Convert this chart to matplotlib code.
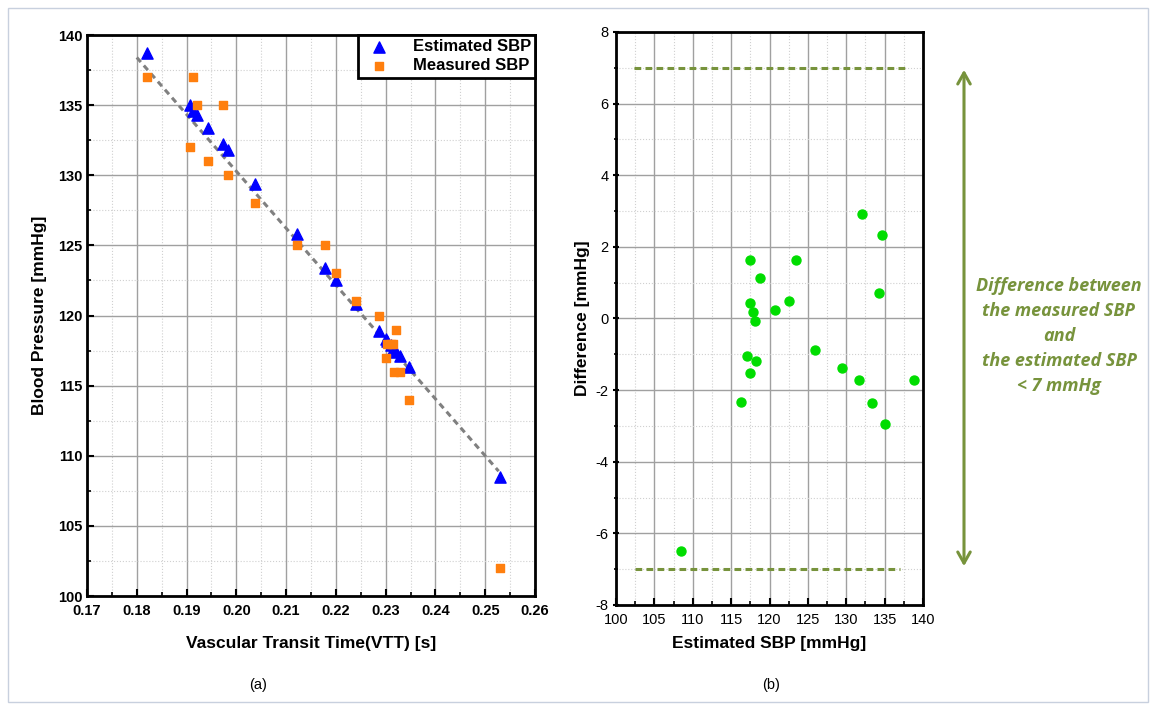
import matplotlib.pyplot as plt
from matplotlib.ticker import MultipleLocator
from matplotlib.patches import Rectangle

# (a) vascular transit time vs blood pressure
vtt = [0.1820, 0.1907, 0.1913, 0.1921, 0.1944, 0.1974, 0.1983, 0.2038, 0.2121, 0.2179, 0.2200,
       0.2241, 0.2286, 0.2301, 0.2302, 0.2310, 0.2315, 0.2316, 0.2320, 0.2329, 0.2346, 0.2530]
sbp_est = [138.7, 135.0, 134.6, 134.3, 133.4, 132.2, 131.8, 129.4, 125.8, 123.4, 122.5,
           120.8, 118.9, 118.3, 118.2, 117.9, 117.6, 117.6, 117.4, 117.1, 116.3, 108.5]
sbp_meas = [137, 132, 137, 135, 131, 135, 130, 128, 125, 125, 123,
            121, 120, 117, 118, 118, 118, 116, 119, 116, 114, 102]
fit_x = [0.180, 0.2527]
fit_y = [138.4, 108.9]

# (b) difference plot
diff_x = [132.1, 134.7, 117.4, 123.4, 118.8, 117.5, 117.8, 118.1, 120.7, 122.5, 134.3,
          125.9, 117.1, 118.2, 117.5, 129.4, 131.7, 138.8, 116.3, 133.4, 135.0, 108.5]
diff_y = [2.91, 2.33, 1.63, 1.62, 1.14, 0.43, 0.18, -0.07, 0.23, 0.49, 0.70,
          -0.88, -1.06, -1.20, -1.51, -1.37, -1.72, -1.71, -2.33, -2.35, -2.95, -6.50]
limit_hi = 7
limit_lo = -7

GREEN = '#77933C'

plt.rcParams['font.family'] = ['Liberation Sans', 'DejaVu Sans']
plt.rcParams['axes.unicode_minus'] = False

fig = plt.figure(figsize=(11.51, 7.06), dpi=100)
fig.patches.append(Rectangle((0.007, 0.005), 0.99, 0.983, transform=fig.transFigure,
                             fill=False, edgecolor='#c8d0de', linewidth=1.0))


def style_axes(ax, bold_ticks, size):
    ax.grid(True, which='major', color='#a0a0a0', linewidth=1.0)
    ax.grid(True, which='minor', color='#d0d0d0', linewidth=0.8, linestyle=':')
    ax.set_axisbelow(True)
    for s in ax.spines.values():
        s.set_linewidth(2.0)
    ax.tick_params(which='major', direction='in', length=5, width=1.5, labelsize=size, pad=3)
    ax.tick_params(which='minor', direction='in', length=3, width=1.2)
    ax.tick_params(axis='x', which='major', pad=6)
    if bold_ticks:
        for lab in ax.get_xticklabels() + ax.get_yticklabels():
            lab.set_fontweight('bold')


# ---- (a)
ax1 = fig.add_axes([0.0756, 0.1558, 0.3892, 0.7946])
ax1.plot(fit_x, fit_y, color='#808080', linestyle=(0, (2, 1.5)), linewidth=2.2, zorder=2)
ax1.scatter(vtt, sbp_est, marker='^', s=65, color='#0000FF', label='Estimated SBP', zorder=3)
ax1.scatter(vtt, sbp_meas, marker='s', s=40, color='#FF7F0E', label='Measured SBP', zorder=4)
ax1.set_xlim(0.17, 0.26)
ax1.set_ylim(100, 140)
ax1.xaxis.set_major_locator(MultipleLocator(0.01))
ax1.xaxis.set_minor_locator(MultipleLocator(0.005))
ax1.yaxis.set_major_locator(MultipleLocator(5))
ax1.yaxis.set_minor_locator(MultipleLocator(2.5))
ax1.set_xticks(ax1.get_xticks())
ax1.set_xticklabels(['{:.2f}'.format(v) for v in ax1.get_xticks()])
ax1.set_xlim(0.17, 0.26)
style_axes(ax1, True, 10.5)
ax1.set_xlabel('Vascular Transit Time(VTT) [s]', fontsize=12.5, fontweight='bold', labelpad=13)
ax1.set_ylabel('Blood Pressure [mmHg]', fontsize=12.5, fontweight='bold', labelpad=8)
leg = ax1.legend(loc='upper right', fancybox=False, framealpha=1, edgecolor='black',
                 borderaxespad=0, handletextpad=1.0, borderpad=0.25, labelspacing=0.25,
                 prop={'weight': 'bold', 'size': 12})
leg.get_frame().set_linewidth(2.0)

# ---- (b)
ax2 = fig.add_axes([0.5352, 0.1431, 0.2667, 0.8116])
ax2.scatter(diff_x, diff_y, s=42, color='#00DD00', zorder=3)
ax2.hlines([limit_hi], 102.3, 137.7, color=GREEN, linestyle=(0, (2.2, 1.4)), linewidth=2.2, zorder=2)
ax2.hlines([limit_lo], 102.5, 137.0, color=GREEN, linestyle=(0, (2.2, 1.4)), linewidth=2.2, zorder=2)
ax2.set_xlim(100, 140)
ax2.set_ylim(-8, 8)
ax2.xaxis.set_major_locator(MultipleLocator(5))
ax2.xaxis.set_minor_locator(MultipleLocator(2.5))
ax2.yaxis.set_major_locator(MultipleLocator(2))
ax2.yaxis.set_minor_locator(MultipleLocator(1))
style_axes(ax2, False, 10.5)
ax2.tick_params(axis='y', which='both', direction='inout')
ax2.set_xlabel('Estimated SBP [mmHg]', fontsize=12.5, fontweight='bold', labelpad=6)
ax2.set_ylabel('Difference [mmHg]', fontsize=12.5, fontweight='bold', labelpad=4)

# arrow + note
fig.add_artist(plt.Annotation('', xy=(964 / 1151, 1 - 569 / 706), xytext=(964 / 1151, 1 - 67 / 706),
                              xycoords='figure fraction', textcoords='figure fraction',
                              arrowprops=dict(arrowstyle='<->,head_length=0.8,head_width=0.45',
                                              color=GREEN, linewidth=2.2)))
fig.text(1059 / 1151, 1 - 336 / 706,
         'Difference between\nthe measured SBP\nand\nthe estimated SBP\n< 7 mmHg',
         ha='center', va='center', color=GREEN, fontsize=13, fontweight='bold',
         fontstyle='italic', family=['Open Sans', 'DejaVu Sans'], linespacing=1.5)

fig.text(258 / 1151, 1 - 685 / 706, '(a)', ha='center', va='center', fontsize=10.5)
fig.text(771 / 1151, 1 - 685 / 706, '(b)', ha='center', va='center', fontsize=10.5)

fig.savefig('out.png', dpi=100)
